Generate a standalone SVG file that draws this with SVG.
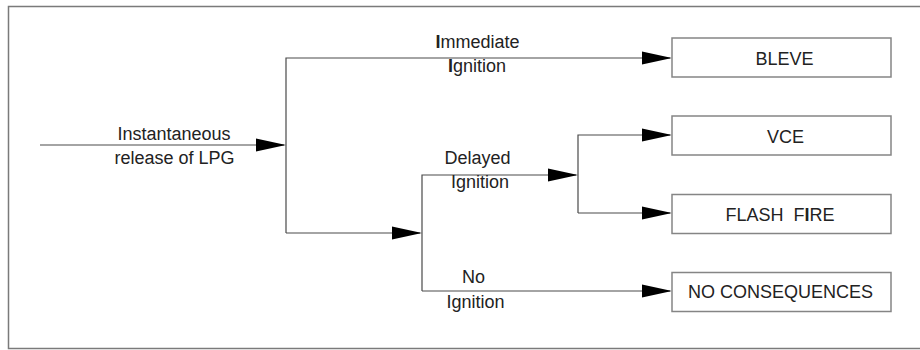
<svg xmlns="http://www.w3.org/2000/svg" width="920" height="350" viewBox="0 0 920 350">
<style>
.frame{fill:none;stroke:#7a7a7a;stroke-width:1.5}
.box{fill:#fff;stroke:#858585;stroke-width:1.5}
.ln{fill:none;stroke:#4a4a4a;stroke-width:1.2}
.ah{fill:#000}
text{font-family:"Liberation Sans",Arial,sans-serif;font-size:18px;fill:#222;text-anchor:middle}
.b{font-weight:bold}
</style>
<defs>
<path id="arrow" class="ah" d="M-30,-6.5 L0,0 L-30,6.5 Z"/>
</defs>
<rect class="frame" x="8.5" y="6.5" width="920" height="342"/>
<g id="connectors">
<path class="ln" d="M40,145 H284"/>
<path class="ln" d="M286,233 V58 H670"/>
<path class="ln" d="M286,233 H420"/>
<path class="ln" d="M422,291 V175 H576"/>
<path class="ln" d="M422,291 H670"/>
<path class="ln" d="M578,213 V135 H670"/>
<path class="ln" d="M578,213 H670"/>
<use href="#arrow" x="286" y="145"/>
<use href="#arrow" x="672" y="58"/>
<use href="#arrow" x="422" y="233"/>
<use href="#arrow" x="578" y="175"/>
<use href="#arrow" x="672" y="135"/>
<use href="#arrow" x="672" y="213"/>
<use href="#arrow" x="672" y="291"/>
</g>
<g id="labels">
<text x="174" y="140">Instantaneous</text>
<text x="174.5" y="164">release of LPG</text>
<text x="477.5" y="48"><tspan class="b">I</tspan>mmediate</text>
<text x="477" y="72"><tspan class="b">I</tspan>gnition</text>
<text x="477.5" y="164">Delayed</text>
<text x="480" y="188">Ignition</text>
<text x="473.5" y="283">No</text>
<text x="475.5" y="308">Ignition</text>
</g>
<g id="bleve">
<rect class="box" x="672" y="38" width="219" height="39"/>
<text x="784.5" y="64.5">BLEVE</text>
</g>
<g id="vce">
<rect class="box" x="672" y="116" width="219" height="39"/>
<text x="785.5" y="142.5">VCE</text>
</g>
<g id="flash-fire">
<rect class="box" x="672" y="194.5" width="219" height="39"/>
<text x="780" y="220.5" xml:space="preserve">FLASH  F<tspan class="b">I</tspan>RE</text>
</g>
<g id="no-consequences">
<rect class="box" x="672" y="272.5" width="219" height="39"/>
<text x="780.5" y="298">NO CONSEQUENCES</text>
</g>
</svg>
